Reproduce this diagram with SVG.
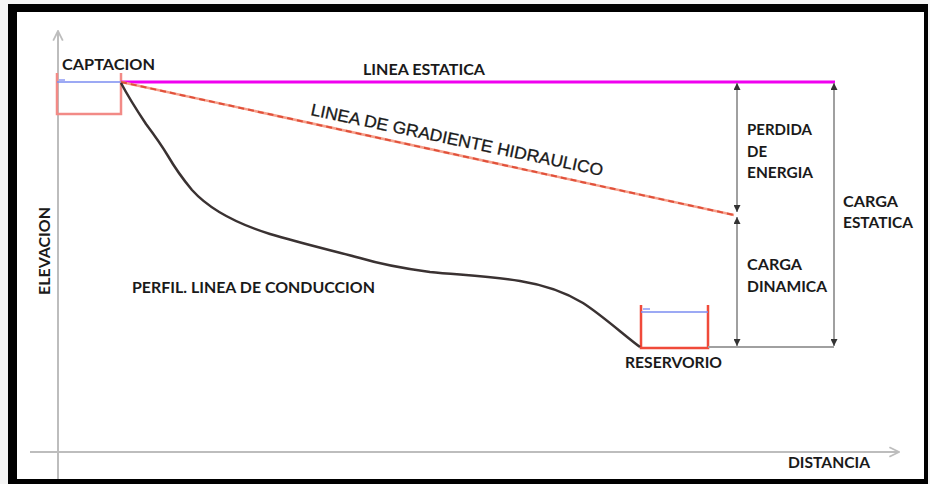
<svg xmlns="http://www.w3.org/2000/svg" width="930" height="484" viewBox="0 0 930 484">
<defs>
<style>
.t{font-family:Lato,"Liberation Sans",sans-serif;font-weight:bold;font-size:15px;fill:#1a1a1a}
.g{font-family:"Liberation Sans",Arial,sans-serif;font-size:17px;fill:#1a1a1a;stroke:#1a1a1a;stroke-width:0.3}
.axis{stroke:#bdbdbd;stroke-width:2;fill:none}
.dim{stroke:#a0a0a0;stroke-width:2;fill:none}
</style>
<marker id="ah" viewBox="0 0 10 10" refX="10" refY="5" markerWidth="7" markerHeight="7" orient="auto-start-reverse" markerUnits="userSpaceOnUse">
<path d="M0,0 L10,5 L0,10 z" fill="#333"/>
</marker>
<marker id="open" viewBox="0 0 10 10" refX="9" refY="5" markerWidth="12" markerHeight="12" orient="auto" markerUnits="userSpaceOnUse">
<path d="M1,1 L9,5 L1,9" fill="none" stroke="#bdbdbd" stroke-width="1.5"/>
</marker>
</defs>
<rect x="0" y="0" width="930" height="484" fill="#f4f4f4"/>
<rect x="8" y="4" width="920" height="480" fill="#000"/>
<rect x="17" y="12" width="907" height="467" fill="#fff"/>

<g id="axes">
<line class="axis" x1="58" y1="479" x2="58" y2="31" marker-end="url(#open)"/>
<line class="axis" x1="30" y1="452" x2="899" y2="452" marker-end="url(#open)"/>
<text class="t" transform="translate(50,295) rotate(-90)" textLength="88" lengthAdjust="spacingAndGlyphs">ELEVACION</text>
<text class="t" x="788" y="468" textLength="82" lengthAdjust="spacingAndGlyphs">DISTANCIA</text>
</g>

<g id="captacion">
<path d="M57,73 L57,114 L121,114 L121,73" fill="none" stroke="#f28a86" stroke-width="2.5"/>
<line x1="57" y1="82" x2="121" y2="82" stroke="#7b8cf0" stroke-width="1.5"/>
<line x1="59" y1="80" x2="65" y2="80" stroke="#5566ee" stroke-width="1"/>
<text class="t" x="62" y="70" textLength="93" lengthAdjust="spacingAndGlyphs">CAPTACION</text>
</g>

<g id="reservorio">
<path d="M641,305 L641,348 L708,348 L708,305" fill="none" stroke="#f04a3a" stroke-width="2.5"/>
<line x1="641" y1="312" x2="708" y2="312" stroke="#7b8cf0" stroke-width="1.5"/>
<line x1="643" y1="309" x2="650" y2="309" stroke="#5566ee" stroke-width="1"/>
<text class="t" x="625" y="368" textLength="97" lengthAdjust="spacingAndGlyphs">RESERVORIO</text>
</g>

<g id="connectors">
<line x1="121" y1="82" x2="835" y2="82" stroke="#f000f0" stroke-width="3"/>
<line x1="121" y1="82" x2="734" y2="215" stroke="#f6a08c" stroke-width="2.5"/>
<line x1="121" y1="82" x2="734" y2="215" stroke="#e0503a" stroke-width="2" stroke-dasharray="6,4"/>
<path d="M121,83 C130,100 138,112 146,124 C155,136 162,146 168,156 C175,168 182,178 192,190 C210,210 238,224 270,234 C300,243 330,250 360,258 C380,264 400,268 430,272 C460,275 490,276 520,281 C545,285 565,292 583,303 C603,316 625,336 640,347" fill="none" stroke="#3a3232" stroke-width="2.5"/>
<line x1="708" y1="347" x2="834" y2="347" class="dim"/>
<line class="dim" x1="737" y1="83" x2="737" y2="212" marker-start="url(#ah)" marker-end="url(#ah)"/>
<line class="dim" x1="737" y1="217" x2="737" y2="346" marker-start="url(#ah)" marker-end="url(#ah)"/>
<line class="dim" x1="834" y1="83" x2="834" y2="346" marker-start="url(#ah)" marker-end="url(#ah)"/>
</g>

<g id="labels">
<text class="t" x="363" y="75" textLength="122" lengthAdjust="spacingAndGlyphs">LINEA ESTATICA</text>
<text class="g" transform="translate(310,115) rotate(11.8)" textLength="298" lengthAdjust="spacingAndGlyphs">LINEA DE GRADIENTE HIDRAULICO</text>
<text class="t" x="132" y="293" textLength="243" lengthAdjust="spacingAndGlyphs">PERFIL. LINEA DE CONDUCCION</text>
<text class="t" x="747" y="135" textLength="65" lengthAdjust="spacingAndGlyphs">PERDIDA</text>
<text class="t" x="747" y="157">DE</text>
<text class="t" x="747" y="178" textLength="66" lengthAdjust="spacingAndGlyphs">ENERGIA</text>
<text class="t" x="843" y="207" textLength="55" lengthAdjust="spacingAndGlyphs">CARGA</text>
<text class="t" x="843" y="228" textLength="70" lengthAdjust="spacingAndGlyphs">ESTATICA</text>
<text class="t" x="747" y="270" textLength="55" lengthAdjust="spacingAndGlyphs">CARGA</text>
<text class="t" x="747" y="292" textLength="80" lengthAdjust="spacingAndGlyphs">DINAMICA</text>
</g>
</svg>
